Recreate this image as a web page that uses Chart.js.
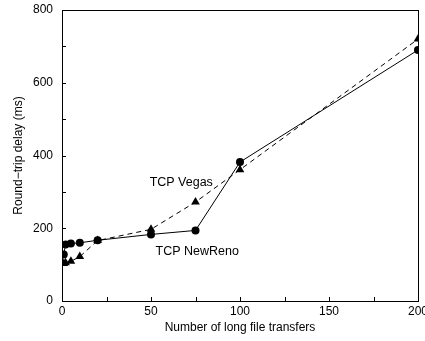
<!DOCTYPE html>
<html>
<head>
<meta charset="utf-8">
<script src="https://cdn.jsdelivr.net/npm/chart.js@4/dist/chart.umd.min.js"></script>
<style>
  html, body { margin: 0; padding: 0; background: #fff; }
  #wrap { width: 425px; height: 341px; }
</style>
</head>
<body>
<div id="wrap"><canvas id="rttChart" width="425" height="341"></canvas></div>
<script>
// number of long file transfers
const transfers = [1, 2, 5, 10, 20, 50, 75, 100, 200];
// round-trip delay (ms)
const newRenoDelay = [128, 155, 158, 160, 167, 183, 194, 382, 690];
const vegasDelay = [103, 105, 109, 122, 166, 197, 272, 361, 720];

const xLabelTicks = [0, 50, 100, 150, 200];
const yLabelTicks = [0, 200, 400, 600, 800];

// text labels placed next to the curves (data coordinates)
const curveLabels = [
    { text: 'TCP Vegas', x: 67, y: 326 },
    { text: 'TCP NewReno', x: 76, y: 137 }
];

const FONT = 'Liberation Sans, Arial, Helvetica, sans-serif';

function toPoints(xs, ys) {
    return xs.map((x, i) => ({ x: x, y: ys[i] }));
}

// frame, inward tick marks and curve labels
const framePlugin = {
    id: 'frame',
    afterDraw(chart) {
        const ctx = chart.ctx;
        const area = chart.chartArea;
        const xs = chart.scales.x;
        const ys = chart.scales.y;
        ctx.save();
        ctx.strokeStyle = '#000';
        ctx.lineWidth = 1;
        ctx.strokeRect(area.left + 0.5, area.top + 0.5, area.right - area.left, area.bottom - area.top);

        ctx.beginPath();
        xs.ticks.forEach(t => {
            const px = Math.round(xs.getPixelForValue(t.value)) + 0.5;
            ctx.moveTo(px, area.bottom);
            ctx.lineTo(px, area.bottom - 4);
        });
        ys.ticks.forEach(t => {
            const py = Math.round(ys.getPixelForValue(t.value)) + 0.5;
            ctx.moveTo(area.left, py);
            ctx.lineTo(area.left + 4, py);
        });
        ctx.stroke();

        ctx.fillStyle = '#000';
        ctx.font = '12.5px ' + FONT;
        ctx.textAlign = 'center';
        ctx.textBaseline = 'middle';
        curveLabels.forEach(l => {
            ctx.fillText(l.text, xs.getPixelForValue(l.x), ys.getPixelForValue(l.y));
        });
        ctx.restore();
    }
};

function initDelayChart() {
    const ctx = document.getElementById('rttChart').getContext('2d');

    const config = {
        type: 'scatter',
        data: {
            datasets: [
                {
                    label: 'TCP NewReno',
                    data: toPoints(transfers, newRenoDelay),
                    showLine: true,
                    borderColor: '#000',
                    borderWidth: 1,
                    backgroundColor: '#000',
                    pointStyle: 'circle',
                    pointRadius: 4,
                    pointBorderWidth: 0
                },
                {
                    label: 'TCP Vegas',
                    data: toPoints(transfers, vegasDelay),
                    showLine: true,
                    borderColor: '#000',
                    borderWidth: 1,
                    borderDash: [5, 4],
                    backgroundColor: '#000',
                    pointStyle: 'triangle',
                    pointRadius: 5,
                    pointBorderWidth: 0
                }
            ]
        },
        options: {
            responsive: false,
            animation: false,
            layout: { padding: { top: 10, right: 7, left: 0, bottom: 0 } },
            plugins: {
                legend: { display: false },
                tooltip: { enabled: false }
            },
            scales: {
                x: {
                    type: 'linear',
                    min: 0,
                    max: 200,
                    grid: { display: false, drawTicks: false },
                    border: { display: false },
                    ticks: {
                        stepSize: 25,
                        padding: 3,
                        color: '#000',
                        font: { family: FONT, size: 12 },
                        maxRotation: 0,
                        autoSkip: false,
                        callback: v => xLabelTicks.includes(v) ? String(v) : ''
                    },
                    title: {
                        display: true,
                        text: 'Number of long file transfers',
                        color: '#000',
                        font: { family: FONT, size: 12 },
                        padding: { top: 0, bottom: 6 }
                    },
                    afterFit: s => { s.height = 40; s.paddingLeft = 0; s.paddingRight = 0; }
                },
                y: {
                    type: 'linear',
                    min: 0,
                    max: 800,
                    grid: { display: false, drawTicks: false },
                    border: { display: false },
                    ticks: {
                        stepSize: 100,
                        padding: 9,
                        color: '#000',
                        font: { family: FONT, size: 12 },
                        autoSkip: false,
                        callback: v => yLabelTicks.includes(v) ? String(v) : ''
                    },
                    title: {
                        display: true,
                        text: 'Round\u2212trip delay (ms)',
                        color: '#000',
                        font: { family: FONT, size: 12 },
                        padding: { top: 11, bottom: 0 }
                    },
                    afterFit: s => { s.width = 62; s.paddingTop = 0; s.paddingBottom = 0; }
                }
            }
        },
        plugins: [framePlugin]
    };

    new Chart(ctx, config);
}

initDelayChart();
</script>
</body>
</html>
